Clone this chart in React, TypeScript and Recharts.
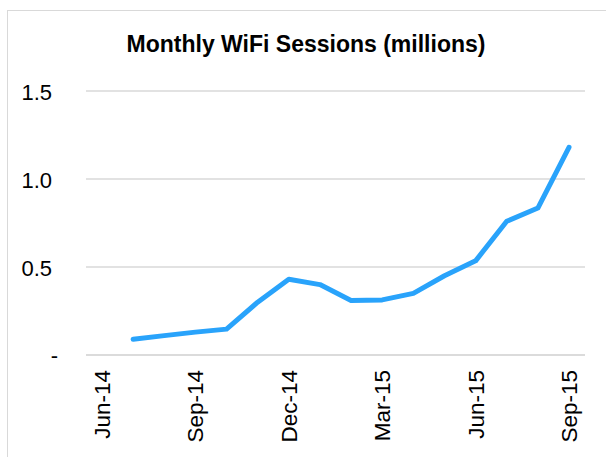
import React from "react";
import { LineChart, Line, XAxis, YAxis, CartesianGrid } from "recharts";

const months = [
  "Jun-14", "Jul-14", "Aug-14", "Sep-14", "Oct-14", "Nov-14", "Dec-14", "Jan-15",
  "Feb-15", "Mar-15", "Apr-15", "May-15", "Jun-15", "Jul-15", "Aug-15", "Sep-15",
];
const sessions: (number | null)[] = [
  null, 0.09, 0.11, 0.13, 0.147, 0.3, 0.43, 0.4,
  0.31, 0.313, 0.35, 0.45, 0.535, 0.76, 0.835, 1.18,
];
const yTicks = [0, 0.5, 1.0, 1.5];
const title = "Monthly WiFi Sessions (millions)";

const data = months.map((m, i) => ({ month: m, value: sessions[i] }));

const FONT = "'Liberation Sans', Arial, sans-serif";

const YTick = (props: any) => {
  const { x, y, payload } = props;
  const v = payload.value as number;
  if (v === 0) {
    return (
      <text x={x + 6} y={y} dy="0.36em" textAnchor="end" fontFamily={FONT} fontSize={22} fill="#000">
        -
      </text>
    );
  }
  return (
    <text x={x} y={y + 1} dy="0.36em" textAnchor="end" fontFamily={FONT} fontSize={22} fill="#000">
      {v.toFixed(1)}
    </text>
  );
};

const XTick = (props: any) => {
  const { x, y, payload } = props;
  const ty = y + 7;
  return (
    <text
      x={x}
      y={ty}
      dy="0.36em"
      textAnchor="end"
      transform={`rotate(-90, ${x}, ${ty})`}
      fontFamily={FONT}
      fontSize={22.5}
      fill="#000"
    >
      {payload.value}
    </text>
  );
};

export default function App() {
  return (
    <div
      style={{
        position: "fixed",
        left: 0,
        top: 0,
        width: 606,
        height: 457,
        overflow: "hidden",
        background: "#fff",
      }}
    >
      <div
        style={{
          position: "absolute",
          left: 7,
          top: 10,
          width: 640,
          height: 480,
          border: "1px solid #d9d9d9",
          boxSizing: "border-box",
        }}
      />
      <div
        style={{
          position: "absolute",
          left: 106,
          top: 33,
          width: 400,
          textAlign: "center",
          fontFamily: FONT,
          fontWeight: "bold",
          fontSize: 23,
          lineHeight: "23px",
          color: "#000",
          whiteSpace: "nowrap",
        }}
      >
        {title}
      </div>
      <div style={{ position: "absolute", left: 0, top: 0 }}>
        <LineChart
          width={606}
          height={457}
          data={data}
          margin={{ top: 91, right: 21, left: 0, bottom: 0 }}
        >
          <CartesianGrid vertical={false} stroke="#d9d9d9" strokeWidth={1.5} />
          <XAxis
            dataKey="month"
            height={102}
            interval={2}
            padding={{ left: 16, right: 16 }}
            tickLine={false}
            axisLine={{ stroke: "#d9d9d9", strokeWidth: 1.5 }}
            tick={<XTick />}
          />
          <YAxis
            width={86}
            domain={[0, 1.5]}
            ticks={yTicks}
            tickLine={false}
            axisLine={false}
            tick={<YTick />}
            tickMargin={28}
          />
          <Line
            type="linear"
            dataKey="value"
            stroke="#29a3fb"
            strokeWidth={5}
            dot={false}
            strokeLinecap="round"
            strokeLinejoin="round"
            isAnimationActive={false}
          />
        </LineChart>
      </div>
    </div>
  );
}
